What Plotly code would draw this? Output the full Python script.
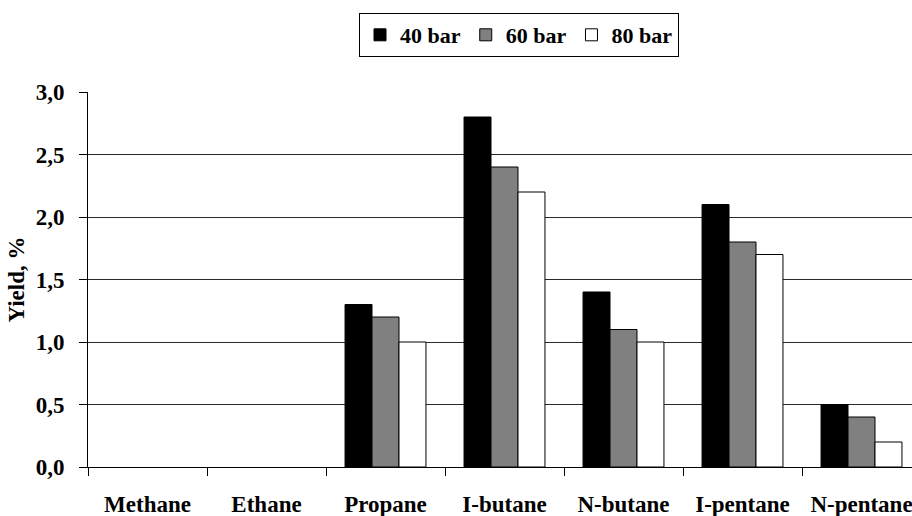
import plotly.graph_objects as go

# Gas yields by component at three pressures
categories = ["Methane", "Ethane", "Propane", "I-butane", "N-butane", "I-pentane", "N-pentane"]
yield_40 = [0.0, 0.0, 1.3, 2.8, 1.4, 2.1, 0.5]
yield_60 = [0.0, 0.0, 1.2, 2.4, 1.1, 1.8, 0.4]
yield_80 = [0.0, 0.0, 1.0, 2.2, 1.0, 1.7, 0.2]
series_names = ["40 bar", "60 bar", "80 bar"]
y_ticks = [0.0, 0.5, 1.0, 1.5, 2.0, 2.5, 3.0]

FONT = "Liberation Serif"
FS = 23
W, H = 912, 516
LEFT, TOP, BOTTOM = 88, 92, 49
CAT_PX = 119  # width of one category slot

fills = ["#000000", "#808080", "#ffffff"]
fig = go.Figure()
for name, vals, col in zip(series_names, [yield_40, yield_60, yield_80], fills):
    # zero yields are left out so no flat outline is drawn on the baseline
    shown = [v if v > 0 else None for v in vals]
    fig.add_trace(go.Bar(
        x=categories, y=shown, name=name,
        marker=dict(color=col, line=dict(color="#000000", width=1)),
    ))

bold = dict(family=FONT, size=FS, color="black", weight="bold")
plot_w = W - LEFT
fig.update_layout(
    width=W, height=H,
    margin=dict(l=LEFT, r=0, t=TOP, b=BOTTOM, autoexpand=False),
    paper_bgcolor="white", plot_bgcolor="white",
    barmode="group", bargap=0.32, bargroupgap=0,
    separators=",.",
    font=bold,
    showlegend=True,
    legend=dict(
        orientation="h", xref="container", yref="container",
        x=519 / W, xanchor="center", y=1 - 13 / H, yanchor="top",
        bordercolor="#000000", borderwidth=1, bgcolor="white",
        font=dict(family=FONT, size=22, color="black", weight="bold"),
        itemwidth=30, tracegroupgap=0,
    ),
    xaxis=dict(
        type="category",
        range=[-0.5, -0.5 + plot_w / CAT_PX],
        showline=True, linecolor="#000000", linewidth=1,
        ticks="outside", ticklen=8, tickcolor="#000000", tickson="boundaries",
        tickfont=bold, ticklabelstandoff=16,
        showgrid=False, automargin=False,
    ),
    yaxis=dict(
        range=[0, 3], tickvals=y_ticks, tickformat=".1f",
        showline=True, linecolor="#000000", linewidth=1,
        ticks="outside", ticklen=8, tickcolor="#000000",
        showgrid=True, gridcolor="#2a2a2a", gridwidth=1,
        zeroline=False,
        tickfont=bold, ticklabelstandoff=10,
        title=dict(text="Yield, %", font=bold, standoff=4),
        automargin=False,
    ),
)

fig.write_html("out.html")
